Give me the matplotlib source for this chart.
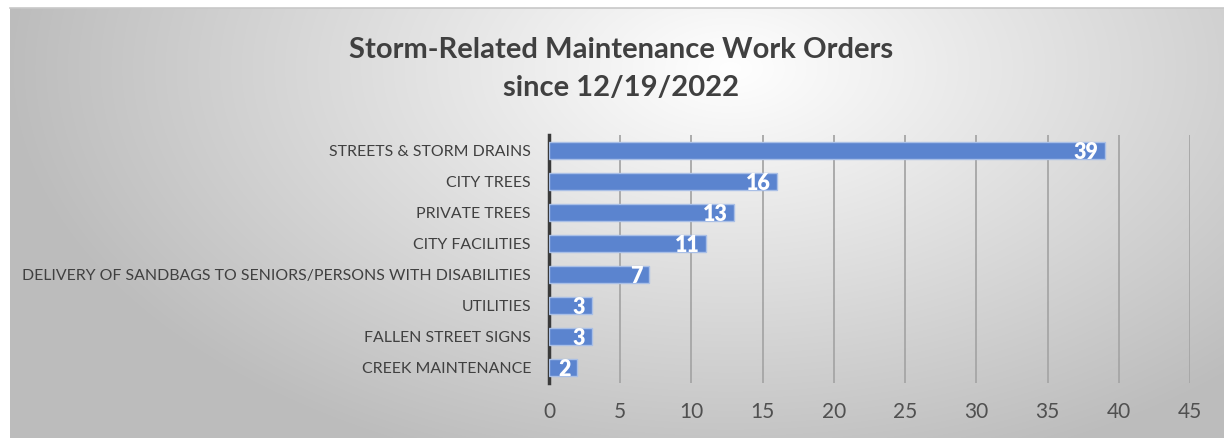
import numpy as np
import matplotlib
matplotlib.use("Agg")
import matplotlib.pyplot as plt

# data, bottom-to-top order as drawn
categories = [
    "CREEK MAINTENANCE",
    "FALLEN STREET SIGNS",
    "UTILITIES",
    "DELIVERY OF SANDBAGS TO SENIORS/PERSONS WITH DISABILITIES",
    "CITY FACILITIES",
    "PRIVATE TREES",
    "CITY TREES",
    "STREETS & STORM DRAINS",
]
counts = [2, 3, 3, 7, 11, 13, 16, 39]
x_ticks = [0, 5, 10, 15, 20, 25, 30, 35, 40, 45]

plt.rcParams["font.family"] = ["Lato", "DejaVu Sans"]

W, H = 1224, 438
fig = plt.figure(figsize=(W / 100, H / 100), dpi=100)
fig.patch.set_facecolor("white")

# radial gradient background panel
bg = fig.add_axes([10 / W, 0, 1 - 10 / W, 1 - 8 / H])
yy, xx = np.mgrid[0:430, 0:1214]
d = np.sqrt(((xx - 720) / 720.0) ** 2 + ((yy - 60) / 420.0) ** 2)
d = np.clip(d, 0, 1)
shade = 1.0 - 0.26 * d
img = np.dstack([shade, shade, shade])
bg.imshow(img, aspect="auto", extent=[0, 1, 0, 1], origin="upper")
bg.set_xlim(0, 1)
bg.set_ylim(0, 1)
bg.axis("off")
fig.add_artist(plt.Line2D([10 / W, 1], [1 - 8 / H, 1 - 8 / H], color="#c8c8c8", lw=1.2))

ax = fig.add_axes([549 / W, 1 - 383 / H, (1190 - 549) / W, (383 - 135) / H])
ax.patch.set_alpha(0)
y = np.arange(len(categories))
ax.barh(y, counts, height=0.56, color="#5b84cf", edgecolor="#a9bfe6", linewidth=1.0, zorder=3)
for yi, v in zip(y, counts):
    ax.text(v - 0.45, yi - 0.05, str(v), ha="right", va="center", color="white",
            fontsize=15.5, fontweight="heavy", zorder=4)

ax.set_xlim(0, 45)
ax.set_ylim(-0.5, len(categories) - 0.5)
ax.set_xticks(x_ticks)
ax.set_yticks(y)
ax.set_yticklabels(categories)
ax.grid(axis="x", color="#a6a6a6", lw=1.3, zorder=0)
for s in ["top", "right", "bottom"]:
    ax.spines[s].set_visible(False)
ax.spines["left"].set_color("#3a3a3a")
ax.spines["left"].set_linewidth(2.5)
ax.tick_params(axis="y", length=0, pad=13, labelsize=11.4, labelcolor="#404040")
ax.tick_params(axis="x", length=0, pad=14, labelsize=15, labelcolor="#505050")

fig.text(621 / W, 1 - 50 / H, "Storm-Related Maintenance Work Orders", ha="center", va="center",
         fontsize=21, fontweight="bold", color="#404040")
fig.text(621 / W, 1 - 88 / H, "since 12/19/2022", ha="center", va="center",
         fontsize=21, fontweight="bold", color="#404040")

fig.savefig("out.png", dpi=100)
